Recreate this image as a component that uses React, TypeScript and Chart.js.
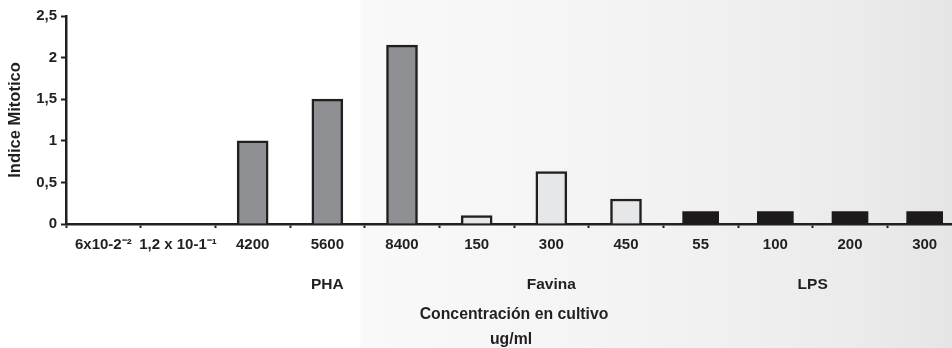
import React, { useEffect, useRef } from "react";
import { Chart, registerables } from "chart.js";

Chart.register(...registerables);

const categories = ["6x10-2\u207B\u00B2", "1,2 x 10-1\u207B\u00B9", "4200", "5600", "8400", "150", "300", "450", "55", "100", "200", "300"];
const phaValues = [null, null, 1.0, 1.5, 2.15, null, null, null, null, null, null, null];
const favinaValues = [null, null, null, null, null, 0.1, 0.63, 0.3, null, null, null, null];
const lpsValues = [null, null, null, null, null, null, null, null, 0.15, 0.15, 0.15, 0.15];
const groupLabels = ["PHA", "Favina", "LPS"];
const groupPositions = [3, 6, 9.5];
const yTitle = "Indice Mitotico";
const xTitleLines = ["Concentración en cultivo", "ug/ml"];

const INK = "#231f20";
const FONT = "'Liberation Sans', Arial, sans-serif";

const labelsPlugin = {
  id: "extraLabels",
  afterDraw(chart: any) {
    const ctx = chart.ctx;
    const x = chart.scales.x;
    const area = chart.chartArea;
    ctx.save();
    ctx.fillStyle = INK;
    ctx.textAlign = "center";
    ctx.textBaseline = "middle";
    ctx.font = `bold 15.5px ${FONT}`;
    groupLabels.forEach((g, i) => {
      ctx.fillText(g, x.getPixelForValue(groupPositions[i]), 285);
    });
    ctx.font = `bold 15.8px ${FONT}`;
    const cx = x.getPixelForValue(5.5);
    ctx.fillText(xTitleLines[0], cx, 315);
    ctx.fillText(xTitleLines[1], cx - 3, 340);
    ctx.translate(15, (area.top + area.bottom) / 2);
    ctx.rotate(-Math.PI / 2);
    ctx.font = `bold 16.5px ${FONT}`;
    ctx.fillText(yTitle, 0, 0);
    ctx.restore();
  },
};

export default function App() {
  const ref = useRef<HTMLCanvasElement>(null);
  useEffect(() => {
    const canvas = ref.current!;
    const chart = new Chart(canvas, {
      type: "bar",
      data: {
        labels: categories,
        datasets: [
          {
            label: "PHA",
            data: phaValues as any,
            backgroundColor: "#8f9094",
            borderColor: INK,
            borderWidth: 2.5,
            barThickness: 31,
            grouped: false,
          },
          {
            label: "Favina",
            data: favinaValues as any,
            backgroundColor: "#e6e7e9",
            borderColor: INK,
            borderWidth: 2.5,
            barThickness: 31,
            grouped: false,
          },
          {
            label: "LPS",
            data: lpsValues as any,
            backgroundColor: "#1c1a1b",
            borderColor: "#1c1a1b",
            borderWidth: 0,
            barThickness: 36,
            grouped: false,
          },
        ],
      },
      options: {
        animation: false,
        responsive: false,
        maintainAspectRatio: false,
        layout: { padding: { left: 8, top: 16, right: 0, bottom: 0 } },
        plugins: { legend: { display: false }, tooltip: { enabled: false } },
        scales: {
          x: {
            offset: true,
            afterFit: (s: any) => {
              s.height = 124;
            },
            grid: {
              display: true,
              drawOnChartArea: false,
              drawTicks: true,
              tickLength: 4,
              tickColor: INK,
              tickWidth: 2,
              offset: true,
            },
            border: { display: true, color: INK, width: 2.5 },
            ticks: {
              color: INK,
              font: { family: FONT, size: 15, weight: "bold" },
              padding: 8,
              maxRotation: 0,
              autoSkip: false,
            },
          },
          y: {
            min: 0,
            max: 2.5,
            afterFit: (s: any) => {
              s.width = 58;
            },
            grid: {
              display: true,
              drawOnChartArea: false,
              drawTicks: true,
              tickLength: 5,
              tickColor: INK,
              tickWidth: 2,
            },
            border: { display: true, color: INK, width: 2.5 },
            ticks: {
              stepSize: 0.5,
              color: INK,
              padding: 4,
              font: { family: FONT, size: 15, weight: "bold" },
              callback: (v: any) => String(v).replace(".", ","),
            },
          },
        },
      },
      plugins: [labelsPlugin],
    });
    return () => chart.destroy();
  }, []);

  return (
    <div
      style={{
        position: "absolute",
        left: 0,
        top: 0,
        width: 952,
        height: 348,
        overflow: "hidden",
        background:
          "linear-gradient(to right, #ffffff 0px, #ffffff 360px, #f9f9f9 361px, #f5f5f5 560px, #f0f0f0 720px, #ebebeb 860px, #e5e5e5 952px)",
      }}
    >
      <canvas ref={ref} width={962} height={348} style={{ display: "block", width: 962, height: 348 }} />
    </div>
  );
}
